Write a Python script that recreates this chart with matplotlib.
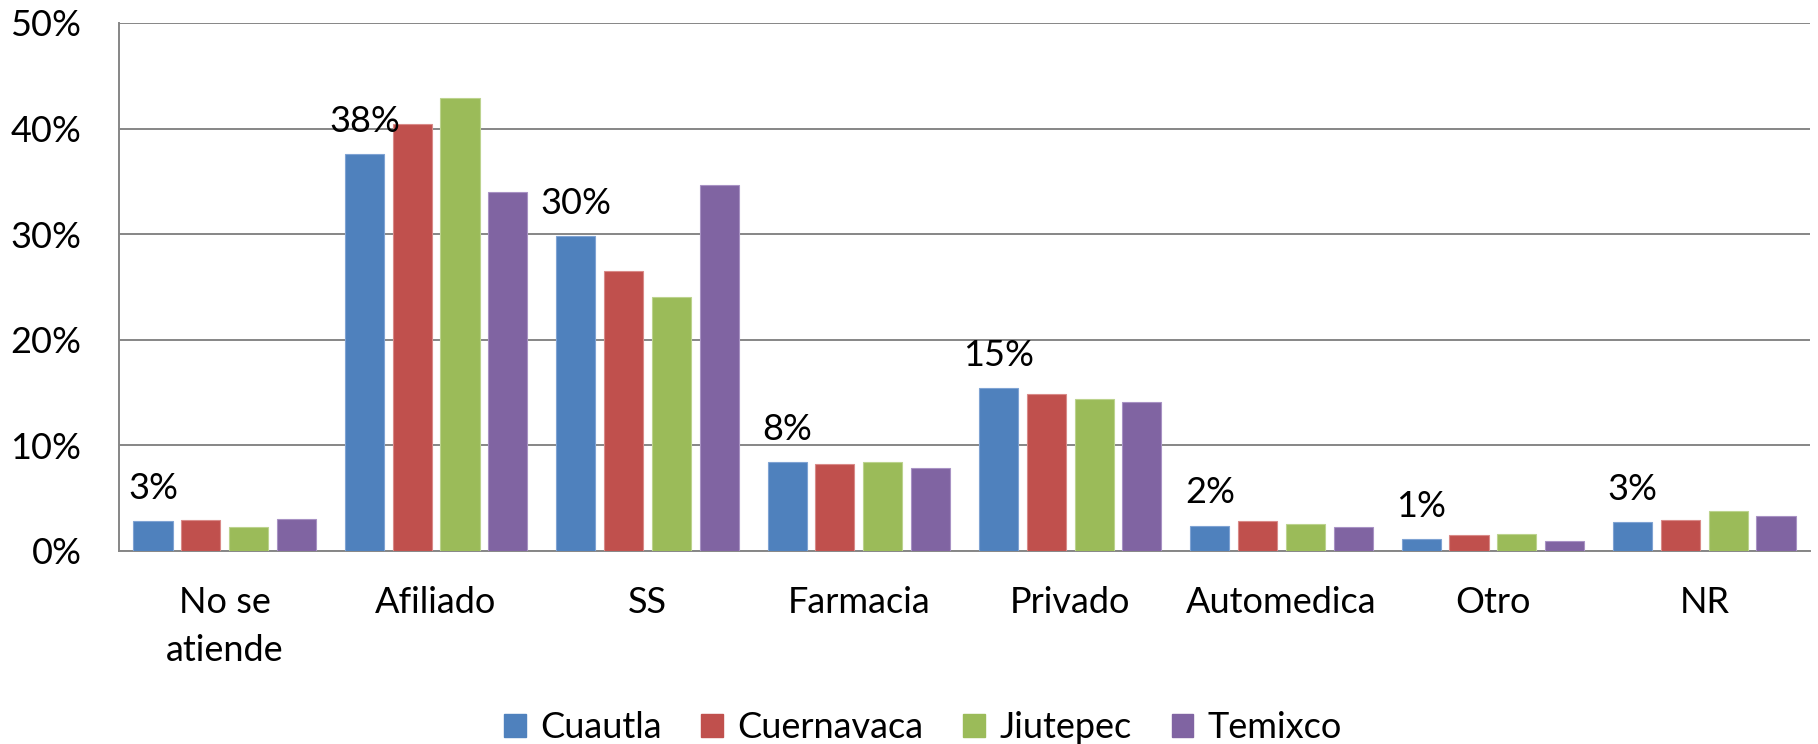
import matplotlib
matplotlib.use("Agg")
import matplotlib.pyplot as plt
import numpy as np
from matplotlib.ticker import FuncFormatter, MultipleLocator
from matplotlib.patches import Patch

categories = ["No se\natiende", "Afiliado", "SS", "Farmacia", "Privado", "Automedica", "Otro", "NR"]
series_names = ["Cuautla", "Cuernavaca", "Jiutepec", "Temixco"]
cuautla = [2.8, 37.6, 29.8, 8.4, 15.4, 2.4, 1.1, 2.7]
cuernavaca = [2.9, 40.4, 26.5, 8.2, 14.9, 2.8, 1.5, 2.9]
jiutepec = [2.3, 42.9, 24.1, 8.4, 14.4, 2.6, 1.6, 3.8]
temixco = [3.0, 34.0, 34.7, 7.9, 14.1, 2.3, 0.9, 3.3]
colors = ["#4F81BD", "#C0504D", "#9BBB59", "#8064A2"]
edge_colors = ["#7FA3D3", "#D98A88", "#BCD38E", "#A892C4"]

plt.rcParams['font.family'] = ['Lato', 'DejaVu Sans']

fig = plt.figure(figsize=(18.18, 7.44), dpi=100)
ax = fig.add_axes([119/1818, 1 - 551/744, (1810-119)/1818, (551-23)/744])

x = np.arange(len(categories))
pitch = 0.226
width = 0.185
all_series = [cuautla, cuernavaca, jiutepec, temixco]
for i, (vals, c, ec) in enumerate(zip(all_series, colors, edge_colors)):
    ax.bar(x + (i - 1.5) * pitch, vals, width=width, color=c, edgecolor=ec,
           linewidth=0.8, zorder=3)

# data labels for the first series
for xi, v in zip(x, cuautla):
    ax.annotate(f"{v:.0f}%", xy=(xi - 1.5 * pitch, v), xytext=(0, 16),
                textcoords="offset points", ha="center", va="baseline",
                fontsize=26, color="black", zorder=4)

ax.set_xlim(-0.5, len(categories) - 0.5)
ax.set_ylim(0, 50)
ax.yaxis.set_major_locator(MultipleLocator(10))
ax.yaxis.set_major_formatter(FuncFormatter(lambda v, p: f"{v:.0f}%"))
ax.grid(axis="y", color="#868686", linewidth=1.4, zorder=0)
ax.set_axisbelow(True)
for s in ["top", "right"]:
    ax.spines[s].set_visible(False)
for s in ["left", "bottom"]:
    ax.spines[s].set_color("#868686")
    ax.spines[s].set_linewidth(1.4)

ax.set_xticks(x)
ax.set_xticklabels(categories, fontsize=26)
for lab in ax.get_xticklabels():
    lab.set_linespacing(1.55)
ax.tick_params(axis="x", length=0, pad=25)
ax.tick_params(axis="y", length=0, pad=27, labelsize=26)

handles = [Patch(facecolor=c, edgecolor=c) for c in colors]
fig.legend(handles, series_names, loc="center", bbox_to_anchor=(923/1818, 16/744),
           ncol=4, frameon=False, fontsize=26, handlelength=0.6, handleheight=0.6,
           handletextpad=0.4, columnspacing=1.1)

fig.savefig("out.png", dpi=100)
